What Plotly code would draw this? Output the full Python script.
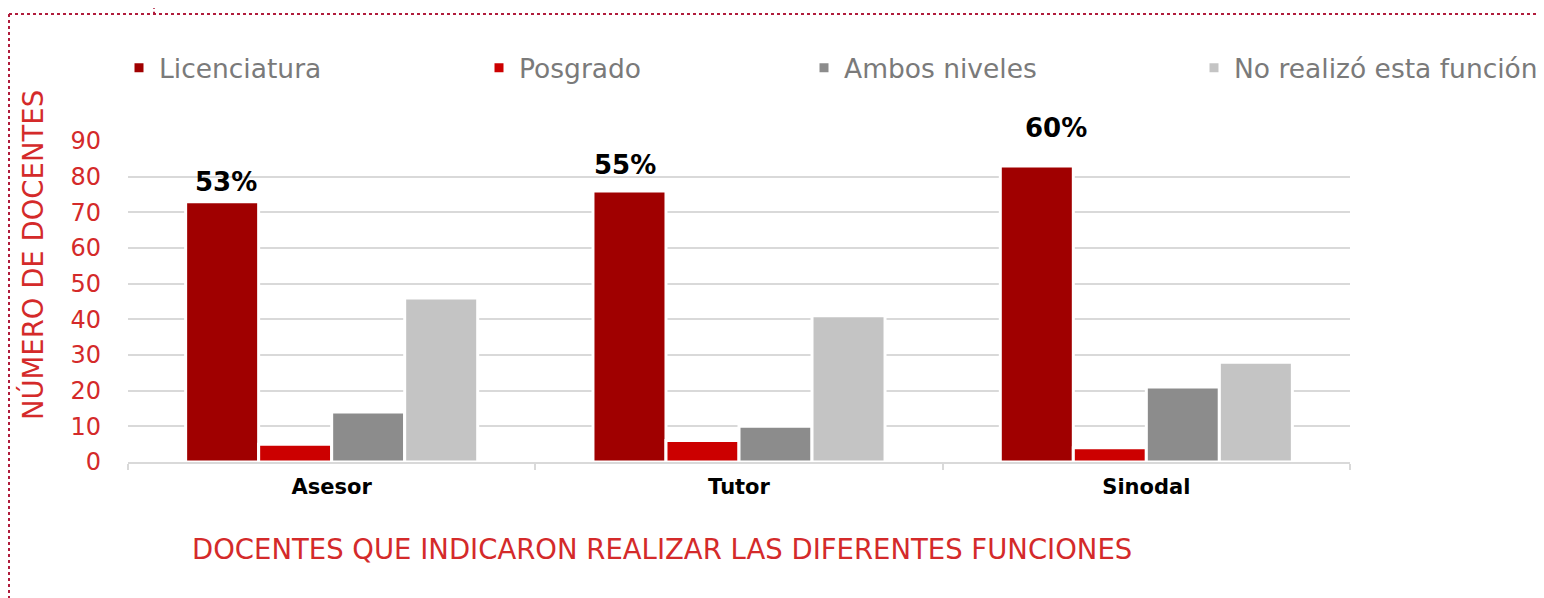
import plotly.graph_objects as go

categories = ["Asesor", "Tutor", "Sinodal"]
series_names = ["Licenciatura", "Posgrado", "Ambos niveles", "No realizó esta función"]
licenciatura = [73, 76, 83]
posgrado = [5, 6, 4]
ambos = [14, 10, 21]
no_realizo = [46, 41, 28]
pct_labels = ["53%", "55%", "60%"]
y_ticks = [0, 10, 20, 30, 40, 50, 60, 70, 80, 90]

colors = ["#a00000", "#cc0000", "#8c8c8c", "#c4c4c4"]
values = [licenciatura, posgrado, ambos, no_realizo]

FONT = "DejaVu Sans"
RED = "#d42a2a"

# page has an 8px body margin: work in figure coordinates = screen - 8
S = 8
W, H = 1544 - S, 598 - S
plot_left, plot_right = 128 - S, 1350 - S
plot_top, plot_bottom = 141 - S, 461.7 - S
pw = plot_right - plot_left
ph = plot_bottom - plot_top


def px2x(px):
    return (px - S - plot_left) / pw


def py2y(py):
    return (plot_bottom - (py - S)) / ph


fig = go.Figure()
legend_ids = ["legend", "legend2", "legend3", "legend4"]
for name, vals, col, lg in zip(series_names, values, colors, legend_ids):
    fig.add_trace(go.Bar(
        x=categories, y=vals, name=name, showlegend=True,
        marker=dict(color=col, line=dict(color="white", width=3)),
        legend=lg, hoverinfo="x+y+name",
    ))

# legend positions (screen x of legend box left)
leg_px = [119, 479, 804, 1194]
legend_cfg = {}
for lg, px in zip(legend_ids, leg_px):
    legend_cfg[lg] = dict(
        x=px2x(px), xanchor="left", y=py2y(68), yanchor="middle",
        orientation="h", bgcolor="rgba(0,0,0,0)",
        font=dict(family=FONT, size=26.5, color="#7a7a7a"),
        itemclick=False, itemdoubleclick=False,
    )

# percentage labels above Licenciatura bars
xshifts = [-106, -114, -90]
yshifts = [20, 26, 38]
annotations = []
for cat, v, lab, xs, ys in zip(categories, licenciatura, pct_labels, xshifts, yshifts):
    annotations.append(dict(
        x=cat, y=v, xref="x", yref="y", text=f"<b>{lab}</b>", showarrow=False,
        xshift=xs, yshift=ys, yanchor="middle", xanchor="center",
        font=dict(family=FONT, size=26, color="black"),
    ))

annotations.append(dict(
    x=px2x(190), y=py2y(549), xref="paper", yref="paper",
    text="DOCENTES QUE INDICARON REALIZAR LAS DIFERENTES FUNCIONES", showarrow=False,
    xanchor="left", yanchor="middle", font=dict(family=FONT, size=27.5, color=RED),
))
annotations.append(dict(
    x=px2x(32), y=py2y(255), xref="paper", yref="paper",
    text="NÚMERO DE DOCENTES", showarrow=False, textangle=-90,
    xanchor="center", yanchor="middle", font=dict(family=FONT, size=27.5, color=RED),
))

dot_color = "#b01c3c"
shapes = [
    dict(type="line", xref="paper", yref="paper", x0=px2x(9), x1=px2x(1560), y0=py2y(14), y1=py2y(14),
         line=dict(color=dot_color, width=2, dash="dot")),
    dict(type="line", xref="paper", yref="paper", x0=px2x(9), x1=px2x(9), y0=py2y(14), y1=py2y(620),
         line=dict(color=dot_color, width=2, dash="dot")),
    dict(type="line", xref="paper", yref="paper", x0=px2x(154), x1=px2x(154), y0=py2y(0), y1=py2y(14),
         line=dict(color=dot_color, width=2, dash="dot")),
]

fig.update_layout(
    width=W, height=H,
    margin=dict(l=plot_left, r=W - plot_right, t=plot_top, b=H - plot_bottom, autoexpand=False),
    paper_bgcolor="white", plot_bgcolor="white",
    barmode="group", bargap=0.283, bargroupgap=0.0,
    font=dict(family=FONT),
    annotations=annotations, shapes=shapes,
    **legend_cfg,
)
fig.update_yaxes(
    range=[0, 90], tickvals=y_ticks, showgrid=True, gridcolor="#d9d9d9", gridwidth=2,
    zeroline=False, showline=False, ticks="", ticklabelstandoff=26,
    tickfont=dict(family=FONT, size=24, color=RED),
)
fig.update_xaxes(
    showline=True, linecolor="#d9d9d9", linewidth=2,
    ticks="outside", tickson="boundaries", ticklen=6, tickcolor="#d9d9d9", tickwidth=2,
    ticklabelstandoff=5,
    tickfont=dict(family=FONT, size=21, color="black", weight="bold"),
)

fig.write_html("out.html")
